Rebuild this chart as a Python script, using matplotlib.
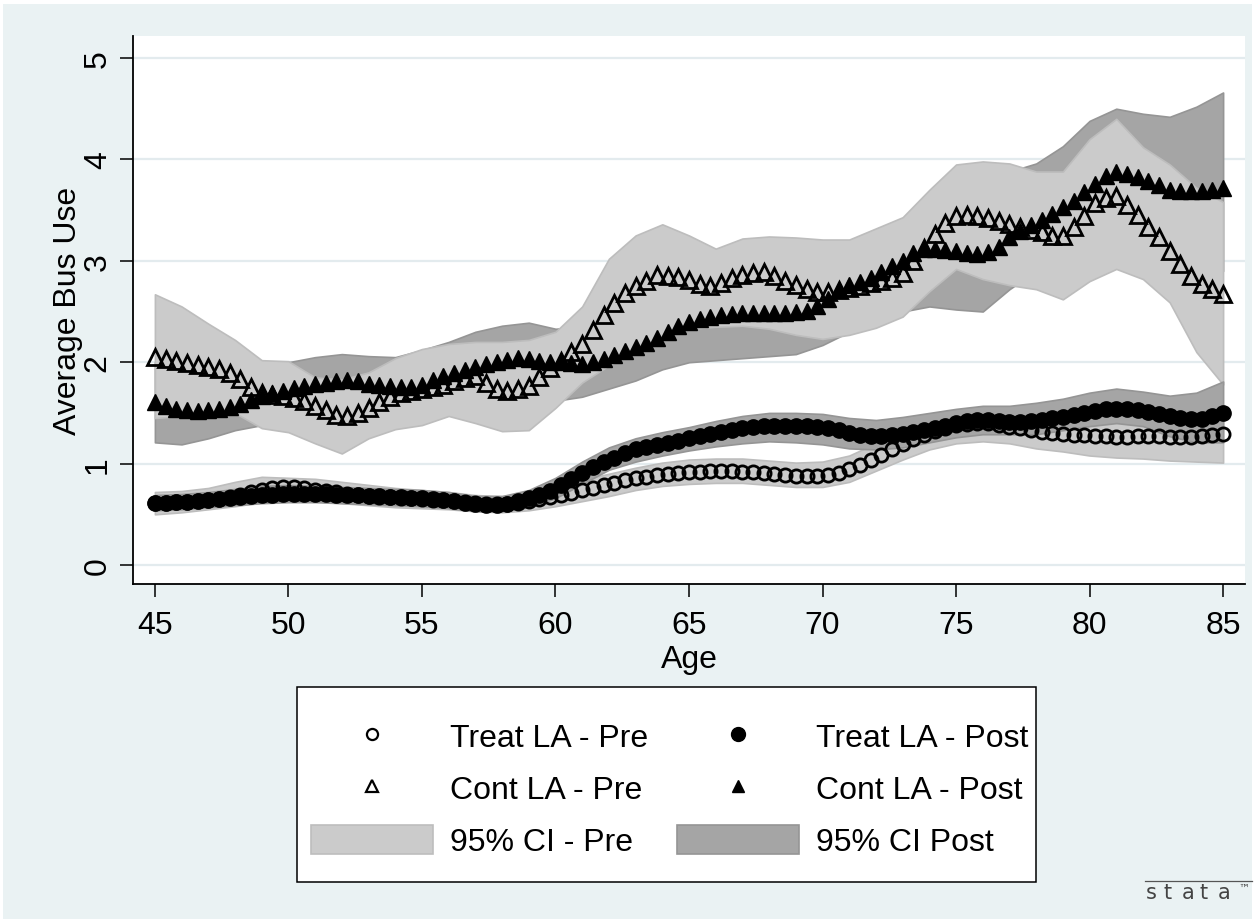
import numpy as np
import matplotlib
matplotlib.use("Agg")
import matplotlib.pyplot as plt
from matplotlib.patches import Rectangle
from matplotlib.lines import Line2D

plt.rcParams["font.family"] = ["Liberation Sans", "DejaVu Sans"]

W, H = 1257, 920

# Smoothed estimates on a 0.4-year age grid
age = np.linspace(45, 85, 101)

treat_pre = [
    0.61, 0.61, 0.62, 0.62, 0.63,
    0.64, 0.65, 0.67, 0.69, 0.72,
    0.74, 0.76, 0.77, 0.77, 0.76,
    0.74, 0.73, 0.72, 0.70, 0.69,
    0.68, 0.67, 0.67, 0.66, 0.66,
    0.65, 0.64, 0.64, 0.63, 0.62,
    0.61, 0.60, 0.60, 0.60, 0.61,
    0.63, 0.65, 0.67, 0.69, 0.71,
    0.74, 0.76, 0.79, 0.81, 0.84,
    0.86, 0.87, 0.89, 0.90, 0.91,
    0.92, 0.92, 0.93, 0.93, 0.93,
    0.92, 0.92, 0.91, 0.90, 0.89,
    0.88, 0.88, 0.88, 0.89, 0.91,
    0.95, 0.99, 1.04, 1.09, 1.14,
    1.19, 1.24, 1.28, 1.32, 1.35,
    1.38, 1.39, 1.40, 1.40, 1.38,
    1.36, 1.35, 1.33, 1.31, 1.30,
    1.29, 1.28, 1.28, 1.27, 1.27,
    1.26, 1.26, 1.27, 1.27, 1.27,
    1.26, 1.26, 1.26, 1.27, 1.28,
    1.29,
]

treat_post = [
    0.61, 0.61, 0.62, 0.62, 0.63,
    0.64, 0.65, 0.66, 0.67, 0.68,
    0.69, 0.69, 0.70, 0.70, 0.70,
    0.70, 0.70, 0.69, 0.69, 0.69,
    0.68, 0.68, 0.67, 0.67, 0.66,
    0.66, 0.65, 0.64, 0.63, 0.61,
    0.60, 0.59, 0.59, 0.60, 0.63,
    0.66, 0.69, 0.73, 0.79, 0.85,
    0.91, 0.97, 1.02, 1.06, 1.10,
    1.14, 1.16, 1.18, 1.20, 1.22,
    1.25, 1.27, 1.29, 1.31, 1.33,
    1.35, 1.36, 1.37, 1.37, 1.37,
    1.37, 1.37, 1.36, 1.35, 1.33,
    1.30, 1.28, 1.27, 1.27, 1.28,
    1.29, 1.31, 1.33, 1.35, 1.37,
    1.40, 1.42, 1.43, 1.43, 1.42,
    1.41, 1.41, 1.42, 1.43, 1.45,
    1.46, 1.48, 1.50, 1.52, 1.54,
    1.54, 1.54, 1.53, 1.51, 1.49,
    1.47, 1.45, 1.44, 1.44, 1.47,
    1.50,
]

cont_pre = [
    2.05, 2.03, 2.01, 1.99, 1.97,
    1.95, 1.93, 1.89, 1.83, 1.76,
    1.70, 1.68, 1.67, 1.65, 1.62,
    1.57, 1.53, 1.48, 1.47, 1.50,
    1.55, 1.61, 1.66, 1.70, 1.72,
    1.74, 1.76, 1.78, 1.81, 1.84,
    1.86, 1.80, 1.74, 1.72, 1.74,
    1.77, 1.85, 1.94, 2.01, 2.10,
    2.18, 2.32, 2.47, 2.58, 2.68,
    2.75, 2.80, 2.86, 2.85, 2.84,
    2.81, 2.77, 2.75, 2.78, 2.83,
    2.86, 2.88, 2.89, 2.85, 2.80,
    2.76, 2.72, 2.69, 2.69, 2.71,
    2.73, 2.75, 2.78, 2.80, 2.83,
    2.88, 3.00, 3.13, 3.26, 3.37,
    3.44, 3.45, 3.44, 3.42, 3.39,
    3.36, 3.33, 3.30, 3.28, 3.24,
    3.24, 3.33, 3.44, 3.57, 3.62,
    3.64, 3.55, 3.45, 3.33, 3.23,
    3.10, 2.97, 2.85, 2.77, 2.72,
    2.67,
]

cont_post = [
    1.61, 1.57, 1.54, 1.53, 1.52,
    1.53, 1.54, 1.56, 1.59, 1.63,
    1.67, 1.70, 1.72, 1.75, 1.77,
    1.79, 1.80, 1.81, 1.82, 1.81,
    1.79, 1.78, 1.77, 1.76, 1.76,
    1.78, 1.82, 1.86, 1.89, 1.92,
    1.95, 1.98, 2.00, 2.02, 2.04,
    2.03, 2.01, 2.00, 2.00, 1.99,
    1.98, 2.00, 2.03, 2.07, 2.11,
    2.15, 2.19, 2.24, 2.30, 2.36,
    2.40, 2.43, 2.45, 2.47, 2.48,
    2.49, 2.49, 2.49, 2.49, 2.49,
    2.50, 2.51, 2.55, 2.62, 2.71,
    2.76, 2.79, 2.83, 2.89, 2.95,
    3.00, 3.08, 3.12, 3.12, 3.11,
    3.10, 3.08, 3.07, 3.09, 3.14,
    3.23, 3.29, 3.35, 3.40, 3.46,
    3.53, 3.59, 3.68, 3.76, 3.84,
    3.88, 3.86, 3.83, 3.79, 3.75,
    3.70, 3.69, 3.69, 3.69, 3.70,
    3.72,
]

# 95% confidence bands, one value per year of age
ci_age = np.arange(45, 86)

cont_post_lo = [1.21, 1.19, 1.25, 1.33, 1.38, 1.40, 1.42, 1.45, 1.45, 1.45,
                1.48, 1.55, 1.60, 1.62, 1.62, 1.62, 1.66, 1.74, 1.82, 1.93,
                2.00, 2.02, 2.04, 2.06, 2.08, 2.17, 2.30, 2.42, 2.50, 2.55,
                2.52, 2.50, 2.72, 2.90, 3.05, 3.15, 3.20, 3.15, 3.05, 2.95,
                2.90]
cont_post_hi = [2.00, 1.95, 1.90, 1.92, 1.95, 2.00, 2.05, 2.08, 2.06, 2.05,
                2.12, 2.20, 2.30, 2.36, 2.39, 2.33, 2.35, 2.45, 2.60, 2.70,
                2.80, 2.85, 2.90, 2.90, 2.95, 3.00, 3.10, 3.25, 3.40, 3.55,
                3.70, 3.80, 3.88, 3.96, 4.13, 4.38, 4.50, 4.45, 4.42, 4.52,
                4.66]

cont_pre_lo = [1.45, 1.47, 1.48, 1.50, 1.35, 1.31, 1.20, 1.10, 1.25, 1.34,
               1.38, 1.47, 1.40, 1.32, 1.33, 1.55, 1.80, 1.97, 2.10, 2.25,
               2.33, 2.35, 2.36, 2.33, 2.27, 2.23, 2.27, 2.34, 2.45, 2.70,
               2.92, 2.82, 2.76, 2.72, 2.62, 2.80, 2.92, 2.82, 2.59, 2.10,
               1.78]
cont_pre_hi = [2.67, 2.55, 2.38, 2.22, 2.02, 2.01, 1.85, 1.83, 1.90, 2.04,
               2.13, 2.18, 2.20, 2.20, 2.22, 2.30, 2.55, 3.02, 3.25, 3.36,
               3.25, 3.12, 3.22, 3.24, 3.23, 3.21, 3.21, 3.32, 3.43, 3.70,
               3.95, 3.98, 3.96, 3.88, 3.88, 4.20, 4.40, 4.12, 3.95, 3.72,
               3.58]

treat_pre_lo = [0.50, 0.52, 0.55, 0.58, 0.62, 0.64, 0.63, 0.61, 0.59, 0.57,
                0.56, 0.55, 0.53, 0.52, 0.54, 0.58, 0.63, 0.68, 0.74, 0.78,
                0.80, 0.81, 0.81, 0.79, 0.77, 0.77, 0.82, 0.93, 1.04, 1.14,
                1.20, 1.22, 1.20, 1.15, 1.12, 1.08, 1.06, 1.05, 1.03, 1.02,
                1.01]
treat_pre_hi = [0.72, 0.73, 0.76, 0.82, 0.87, 0.86, 0.85, 0.82, 0.79, 0.76,
                0.74, 0.72, 0.69, 0.68, 0.71, 0.77, 0.84, 0.90, 0.96, 1.01,
                1.04, 1.05, 1.05, 1.03, 1.01, 1.02, 1.08, 1.20, 1.32, 1.45,
                1.52, 1.55, 1.52, 1.48, 1.47, 1.47, 1.48, 1.50, 1.51, 1.53,
                1.58]

treat_post_lo = [0.54, 0.55, 0.57, 0.59, 0.61, 0.62, 0.62, 0.61, 0.60, 0.59,
                 0.58, 0.56, 0.53, 0.53, 0.57, 0.66, 0.80, 0.94, 1.02, 1.08,
                 1.13, 1.17, 1.20, 1.22, 1.21, 1.19, 1.15, 1.14, 1.16, 1.21,
                 1.26, 1.29, 1.29, 1.29, 1.33, 1.37, 1.40, 1.37, 1.27, 1.21,
                 1.21]
treat_post_hi = [0.69, 0.70, 0.72, 0.75, 0.78, 0.79, 0.78, 0.77, 0.76, 0.75,
                 0.74, 0.72, 0.68, 0.68, 0.74, 0.86, 1.02, 1.16, 1.25, 1.31,
                 1.36, 1.42, 1.47, 1.50, 1.50, 1.49, 1.45, 1.43, 1.46, 1.50,
                 1.54, 1.57, 1.57, 1.60, 1.64, 1.70, 1.74, 1.71, 1.67, 1.70,
                 1.81]

x_ticks = [45, 50, 55, 60, 65, 70, 75, 80, 85]
y_ticks = [0, 1, 2, 3, 4, 5]
labels = ["Treat LA - Pre", "Cont LA - Pre", "95% CI - Pre",
          "Treat LA - Post", "Cont LA - Post", "95% CI Post"]

BG = "#EAF2F3"
LIGHT, LIGHT_EDGE = "#CBCBCB", "#BDBDBD"
DARK, DARK_EDGE = "#A5A5A5", "#959595"
FS = 23

fig = plt.figure(figsize=(W / 100, H / 100), dpi=100, facecolor="white")
fig.patches.append(Rectangle((3 / W, 0), (1252 - 3) / W, (H - 5) / H,
                             transform=fig.transFigure, facecolor=BG,
                             edgecolor="none", zorder=-10))

ax = fig.add_axes([133 / W, 1 - 585 / H, (1245 - 133) / W, (585 - 37) / H])
ax.set_facecolor("white")
ax.set_xlim(44.18, 85.82)
ax.set_ylim(-0.187, 5.217)

for yv in y_ticks:
    ax.axhline(yv, color="#E3EBEE", lw=1.6, zorder=0)

band_kw = dict(linewidth=1.2, zorder=2)
ax.fill_between(ci_age, cont_post_lo, cont_post_hi, facecolor=DARK,
                edgecolor=DARK_EDGE, **band_kw)
ci_pre = ax.fill_between(ci_age, cont_pre_lo, cont_pre_hi, facecolor=LIGHT,
                         edgecolor=LIGHT_EDGE, **band_kw)
ax.fill_between(ci_age, treat_pre_lo, treat_pre_hi, facecolor=LIGHT,
                edgecolor=LIGHT_EDGE, **band_kw)
ci_post = ax.fill_between(ci_age, treat_post_lo, treat_post_hi, facecolor=DARK,
                          edgecolor=DARK_EDGE, **band_kw)

mk = dict(linestyle="none", zorder=3)
ax.plot(age, treat_pre, marker="o", ms=9.5, mfc="none", mec="black",
        mew=2.0, **mk)
ax.plot(age, cont_pre, marker="^", ms=11, mfc="none", mec="black",
        mew=2.0, **mk)
ax.plot(age, treat_post, marker="o", ms=11, mfc="black", mec="black",
        mew=1.0, **mk)
ax.plot(age, cont_post, marker="^", ms=11, mfc="black", mec="black",
        mew=1.0, **mk)

for side in ("top", "right"):
    ax.spines[side].set_visible(False)
for side in ("left", "bottom"):
    ax.spines[side].set_linewidth(1.3)
    ax.spines[side].set_color("black")

ax.set_xticks(x_ticks)
ax.set_yticks(y_ticks)
ax.tick_params(axis="both", direction="out", length=9.5, width=1.1,
               labelsize=FS, colors="black")
ax.tick_params(axis="x", pad=9)
ax.tick_params(axis="y", pad=5)
for lab in ax.get_yticklabels():
    lab.set_rotation(90)
    lab.set_va("center")

ax.set_xlabel("Age", fontsize=FS, labelpad=3)
ax.set_ylabel("Average Bus Use", fontsize=FS, labelpad=0)

# Key box
fig.patches.append(Rectangle((297 / W, 1 - 883 / H), (1036 - 297) / W,
                             (883 - 688) / H, transform=fig.transFigure,
                             facecolor="white", edgecolor="black",
                             linewidth=1.1, zorder=1))

leg_tp = Line2D([], [], linestyle="none", marker="o", ms=8, mfc="none",
                mec="black", mew=1.6)
leg_cp = Line2D([], [], linestyle="none", marker="^", ms=8, mfc="none",
                mec="black", mew=1.6)
leg_tq = Line2D([], [], linestyle="none", marker="o", ms=10, mfc="black",
                mec="black")
leg_cq = Line2D([], [], linestyle="none", marker="^", ms=9, mfc="black",
                mec="black")
leg = fig.legend([leg_tp, leg_cp, ci_pre, leg_tq, leg_cq, ci_post], labels,
                 ncol=2, loc="center",
                 bbox_to_anchor=(670 / W, 1 - 790 / H),
                 fontsize=FS, frameon=False,
                 handlelength=3.8, handleheight=1.05, handletextpad=0.55,
                 columnspacing=0.9, labelspacing=0.6, borderpad=0.2)
leg.set_zorder(2)

# Stata wordmark in the lower-right corner
fig.add_artist(Line2D([1145 / W, 1252 / W], [1 - 882 / H, 1 - 882 / H],
                      transform=fig.transFigure, color="#555555", lw=0.9))
for i, ch in enumerate(["s", "t", "a", "t", "a"]):
    fig.text((1146 + 18 * i) / W, 1 - 893 / H, ch, fontsize=15,
             color="#444444", family="DejaVu Sans", va="center", ha="left")
fig.text(1238 / W, 1 - 889 / H, "\u2122", fontsize=8, color="#444444",
         family="DejaVu Sans", va="center", ha="left")

fig.savefig("out.png", dpi=100, facecolor=fig.get_facecolor())
